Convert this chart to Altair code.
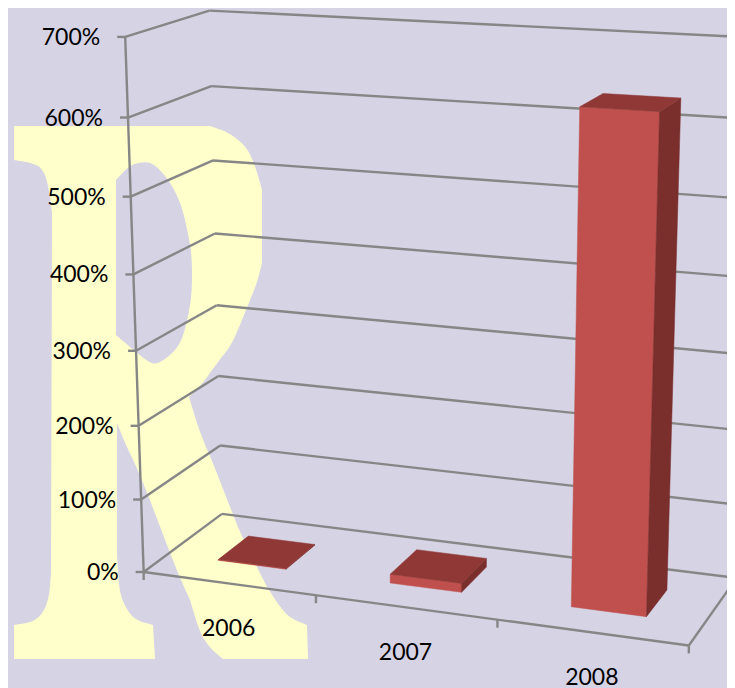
import altair as alt
import numpy as np
import pandas as pd

# ---- chart values
years = ["2006", "2007", "2008"]
values = [1, 12, 634]
ticks = [0, 100, 200, 300, 400, 500, 600, 700]

BG = "#D6D3E5"
YEL = "#FFFFCC"
GRID = "#868686"
FRONT = "#C0504D"
TOP = "#8F3836"
SIDE = "#7A2F2D"

# ---- camera: (category position, percent, depth) -> picture position
cal = [
    ((0, 0, 0), (143, 572)), ((0, 100, 0), (142, 499)), ((0, 200, 0), (139, 426)),
    ((0, 300, 0), (135, 351)), ((0, 400, 0), (134, 274)), ((0, 500, 0), (132, 196)),
    ((0, 600, 0), (128, 117)), ((0, 700, 0), (125, 37)),
    ((0, 0, 1), (222, 514)), ((0, 100, 1), (220, 446)), ((0, 200, 1), (219, 375)),
    ((0, 300, 1), (217, 306)), ((0, 400, 1), (215, 233)), ((0, 500, 1), (213, 160)),
    ((0, 600, 1), (211, 86)), ((0, 700, 1), (208, 12)),
    ((1, 0, 0), (316, 596)), ((2, 0, 0), (497, 621)), ((3, 0, 0), (688, 645)),
    ((3, 0, 1), (737, 577)), ((3, 700, 1), (757, 38)),
]
rows = []
for (X, V, D), (u, v) in cal:
    P = [X, V / 700, D, 1]
    u, v = u / 700, v / 700
    rows.append(P + [0, 0, 0, 0] + [-u * c for c in P])
    rows.append([0, 0, 0, 0] + P + [-v * c for c in P])
H = np.linalg.svd(np.array(rows, float))[2][-1].reshape(3, 4)


def proj(X, V, D):
    p = H @ np.array([X, V / 700, D, 1.0])
    return float(p[0] / p[2] * 700), float(p[1] / p[2] * 700)


# ---- grid
lines = []


def seg(a, b):
    n = len(lines)
    lines.append({"s": n, "o": 0, "x": a[0], "y": a[1]})
    lines.append({"s": n, "o": 1, "x": b[0], "y": b[1]})


for t in ticks:
    seg(proj(0, t, 0), proj(0, t, 1))
    seg(proj(0, t, 1), proj(3, t, 1))
    a = proj(0, t, 0)
    seg((a[0] - 8, a[1]), a)
seg(proj(0, 0, 0), proj(0, 700, 0))
seg(proj(0, 0, 0), proj(3, 0, 0))
seg(proj(3, 0, 0), proj(3, 0, 1))
for i in range(4):
    a = proj(i, 0, 0)
    seg(a, (a[0], a[1] + 8))
df_lines = pd.DataFrame(lines)

# ---- bars
X0, X1, D0, D1 = 0.3, 0.7, 0.3, 0.7
faces = []


def face(name, col, pts):
    for o, p in enumerate(pts + pts[:1]):
        faces.append({"f": name, "c": col, "o": o, "x": p[0], "y": p[1]})


for i, val in enumerate(values):
    a, b = i + X0, i + X1
    face(f"f{i}", FRONT, [proj(a, 0, D0), proj(b, 0, D0), proj(b, val, D0), proj(a, val, D0)])
    face(f"s{i}", SIDE, [proj(b, 0, D0), proj(b, 0, D1), proj(b, val, D1), proj(b, val, D0)])
    face(f"t{i}", TOP, [proj(a, val, D0), proj(b, val, D0), proj(b, val, D1), proj(a, val, D1)])
df_faces = pd.DataFrame(faces)

# ---- labels
df_vlab = pd.DataFrame([
    {"t": f"{t}%", "x": proj(0, t, 0)[0] - 25, "y": proj(0, t, 0)[1] + 1} for t in ticks
])
df_xlab = pd.DataFrame([
    {"t": y, "x": proj(i + 0.5, 0, 0)[0], "y": proj(i + 0.5, 0, 0)[1] + 46} for i, y in enumerate(years)
])

# ---- the large decorative letter behind the plot (runs of an outline, smoothed inside each run)
outer_runs = [
    [(14,126),(210,126)],
    [(210,126),(228,132),(246,146),(255,165),(262,190)],
    [(262,190),(262,263)],
    [(262,263),(257,283),(248,305),(238,330),(230,347),(217,363),(203,383),(189,397)],
    [(189,397),(200,433),(213,463),(230,507),(242,537),(267,587)],
    [(267,587),(280,607),(290,618),(307,625)],
    [(307,625),(308,659)],
    [(308,659),(223,659)],
    [(223,659),(210,648),(200,633),(190,600)],
    [(190,600),(180,578),(170,553),(150,500),(137,468),(125,443),(117,423)],
    [(117,423),(117,553)],
    [(117,553),(119,590),(125,607),(135,620),(153,625)],
    [(153,625),(155,659)],
    [(155,659),(14,659)],
    [(14,659),(14,625)],
    [(14,625),(33,622),(43,613),(49,598),(51,573)],
    [(51,573),(52,213)],
    [(52,213),(48,183),(42,168),(32,163),(14,160)],
    [(14,160),(14,126)],
]
counter_runs = [
    [(116,180),(116,335)],
    [(116,335),(137,353),(150,363),(158,364),(173,353),(182,340),(188,317),(192,293),(192,257),
     (188,233),(182,207),(173,187),(163,173),(152,163),(143,162),(130,165),(116,180)],
]


def smooth(run, n=3):
    pts = list(run)
    if len(pts) < 4:
        return pts
    for _ in range(n):
        out = [pts[0]]
        for p, q in zip(pts[:-1], pts[1:]):
            out.append((0.75 * p[0] + 0.25 * q[0], 0.75 * p[1] + 0.25 * q[1]))
            out.append((0.25 * p[0] + 0.75 * q[0], 0.25 * p[1] + 0.75 * q[1]))
        out.append(pts[-1])
        pts = out
    return pts


CX, CY, HALF = 161, 392, 340


def to_path(runs):
    pts = []
    for r in runs:
        pts.extend(smooth(r)[:-1])
    return "M" + "L".join(f"{(x-CX)/HALF:.4f},{(y-CY)/HALF:.4f}" for x, y in pts) + "Z"


r_path = to_path(outer_runs) + to_path(counter_runs)

xs = alt.X("x:Q", scale=alt.Scale(domain=[8, 727], nice=False, zero=False), axis=None)
ys = alt.Y("y:Q", scale=alt.Scale(domain=[688, 8], nice=False, zero=False), axis=None)

letter = alt.Chart(pd.DataFrame({"x": [CX], "y": [CY]})).mark_point(
    shape=r_path, size=(2 * HALF) ** 2, filled=True, fill=YEL, opacity=1, strokeWidth=0
).encode(x=xs, y=ys)

grid = alt.Chart(df_lines).mark_line(color=GRID, strokeWidth=2.4, clip=True).encode(
    x=xs, y=ys, detail="s:N", order="o:Q"
)

bars = alt.Chart(df_faces).mark_line(filled=True, strokeWidth=0.5).encode(
    x=xs, y=ys, detail="f:N", order="o:Q",
    fill=alt.Fill("c:N", scale=None), stroke=alt.Stroke("c:N", scale=None),
)

vlab = alt.Chart(df_vlab).mark_text(
    font="Lato", fontSize=23, align="right", baseline="middle", color="#000000"
).encode(x=xs, y=ys, text="t:N")
xlab = alt.Chart(df_xlab).mark_text(
    font="Lato", fontSize=23, align="center", baseline="middle", color="#000000"
).encode(x=xs, y=ys, text="t:N")

chart = (
    alt.layer(letter, grid, bars, vlab, xlab)
    .properties(width=719, height=680, padding=0, background=BG,
                autosize=alt.AutoSizeParams(type="none"))
    .configure_view(stroke=None)
)
chart.save("out.html", embed_options={"renderer": "svg", "actions": False})
